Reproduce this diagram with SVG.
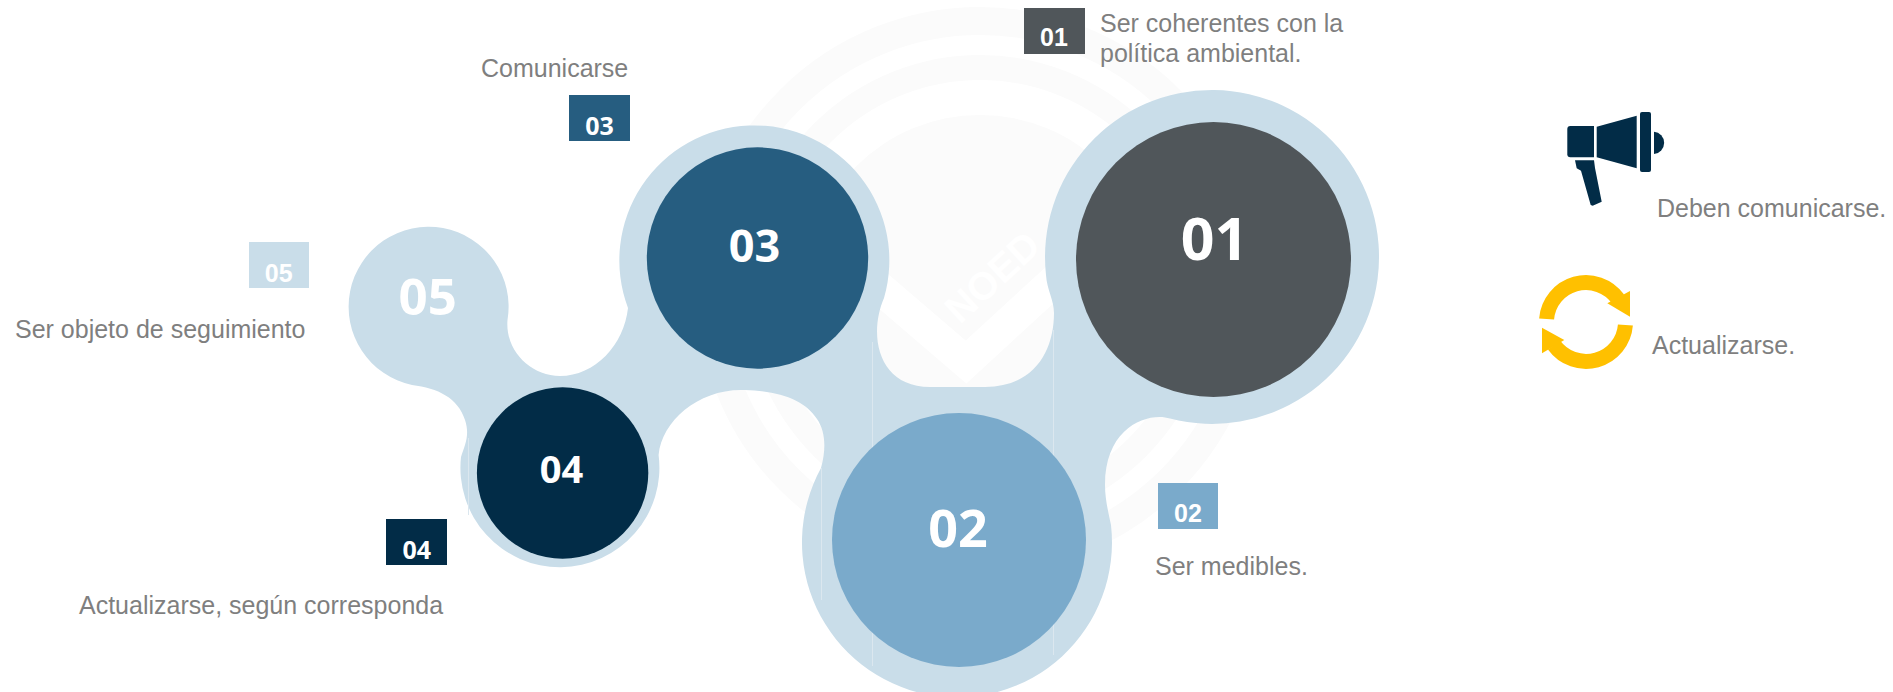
<svg xmlns="http://www.w3.org/2000/svg" width="1893" height="692" viewBox="0 0 1893 692">
<style>
.wm{fill:none;stroke:#fbfbfb}
.seam{stroke:#dbe7ef;stroke-width:1;fill:none}
.big{font-family:"Open Sans",sans-serif;font-weight:700;fill:#fff;text-anchor:middle}
.tagA{font-family:"Liberation Sans",sans-serif;font-weight:700;font-size:25px;fill:#fff;text-anchor:middle}
.tagB{font-family:"Open Sans",sans-serif;font-weight:700;font-size:25px;fill:#fff;text-anchor:middle}
.txt{font-family:"Liberation Sans",Arial,sans-serif;font-size:25px;fill:#7f7f7f}
.navy{fill:#022c47}
.sync{fill:none;stroke:#ffc000;stroke-width:15}
</style>
<rect width="1893" height="692" fill="#fff"/>
<g id="watermark">
<circle class="wm" cx="980" cy="290" r="269" stroke-width="28"/>
<circle class="wm" cx="980" cy="290" r="222.5" stroke-width="25"/>
<circle cx="980" cy="290" r="175" fill="#fbfbfb"/>
<polyline points="868,278 966,362 1064,272" fill="none" stroke="#fff" stroke-width="32"/>
<text transform="translate(960 325) rotate(-42.7)" font-family="'Liberation Sans',sans-serif" font-weight="700" font-size="39" fill="#fff">NOED</text>
</g>
<g id="blob">
<path fill="#c9dde9" d="M507.5 320C505 350 530 376 560 376C595 376 624 345 628 308A135 135 0 1 1 884 298C868 335 878 387 930 387L985 387C1035 387 1054 350 1054 313C1054 300 1047 290 1046 275A167 167 0 1 1 1170 418.6C1150 412 1105 425 1105 485C1105 500 1109 515 1111 525A155 155 0 1 1 821 468C826 450 826 432 817 419C805 400 780 391 745 390C700 388 662 420 658.6 455A99.5 99.5 0 1 1 461 457C465 445 470 435 465 420C458 398 438 388 412 385A80 80 0 1 1 507.5 320Z"/>
<path class="seam" d="M872.5 342V666M1053.5 330V655M821.5 468V600M468.5 438V515"/>
</g>
<g id="connectors"/>
<g id="node-05"><text class="big" x="427.7" y="315" font-size="51">05</text></g>
<g id="node-04"><circle cx="562.6" cy="473" r="85.7" fill="#022c47"/><text class="big" x="561.6" y="483" font-size="38">04</text></g>
<g id="node-03"><circle cx="757.5" cy="258" r="110.7" fill="#265d80"/><text class="big" x="754.6" y="261.5" font-size="45">03</text></g>
<g id="node-02"><circle cx="959" cy="540" r="127" fill="#7aaacb"/><text class="big" x="958" y="547" font-size="52">02</text></g>
<g id="node-01"><circle cx="1213.5" cy="259.5" r="137.5" fill="#50565a"/><text class="big" x="1214.5" y="260" font-size="59">01</text></g>
<g id="label-01"><rect x="1024" y="8" width="61" height="46" fill="#50565a"/><text class="tagA" x="1054" y="46">01</text>
<text class="txt" x="1100" y="32">Ser coherentes con la</text><text class="txt" x="1100" y="62">política ambiental.</text></g>
<g id="label-02"><rect x="1158" y="483" width="60" height="46" fill="#7aaacb"/><text class="tagA" x="1188" y="521.7">02</text>
<text class="txt" x="1155" y="575">Ser medibles.</text></g>
<g id="label-03"><rect x="569" y="95" width="61" height="46" fill="#265d80"/><text class="tagB" x="599.6" y="135">03</text>
<text class="txt" x="481" y="77">Comunicarse</text></g>
<g id="label-04"><rect x="386" y="519" width="61" height="46" fill="#022c47"/><text class="tagB" x="416.8" y="559">04</text>
<text class="txt" x="79" y="614">Actualizarse, según corresponda</text></g>
<g id="label-05"><rect x="249" y="242" width="60" height="46" fill="#c9dde9"/><text class="tagA" x="278.7" y="281.7">05</text>
<text class="txt" x="15" y="338">Ser objeto de seguimiento</text></g>
<g id="icon-megaphone">
<path class="navy" d="M1594 126V157.3H1570.3a3 3 0 0 1-3-3V129a3 3 0 0 1 3-3Z"/>
<polygon class="navy" points="1596.7,126.7 1636.7,115.7 1636.7,168.3 1596.7,157.3"/>
<rect class="navy" x="1640" y="112" width="11" height="60" rx="2"/>
<path class="navy" d="M1654 131.7A11.2 11.2 0 0 1 1654 154Z"/>
<polygon class="navy" points="1575,160.3 1594,160.3 1595,168 1601.7,201.7 1592.7,205.7 1590.7,205 1581,170.7 1576.7,168.3"/>
<text class="txt" x="1657" y="217">Deben comunicarse.</text>
</g>
<g id="icon-update">
<path class="sync" d="M1546.6 319A39.5 39.5 0 0 1 1618 299"/>
<polygon fill="#ffc000" points="1630,291 1630,316.7 1607.3,303.3"/>
<path class="sync" d="M1625.4 325A39.5 39.5 0 0 1 1554 345"/>
<polygon fill="#ffc000" points="1542,327.7 1564.3,340 1542,353.3"/>
<text class="txt" x="1652" y="354">Actualizarse.</text>
</g>
</svg>
